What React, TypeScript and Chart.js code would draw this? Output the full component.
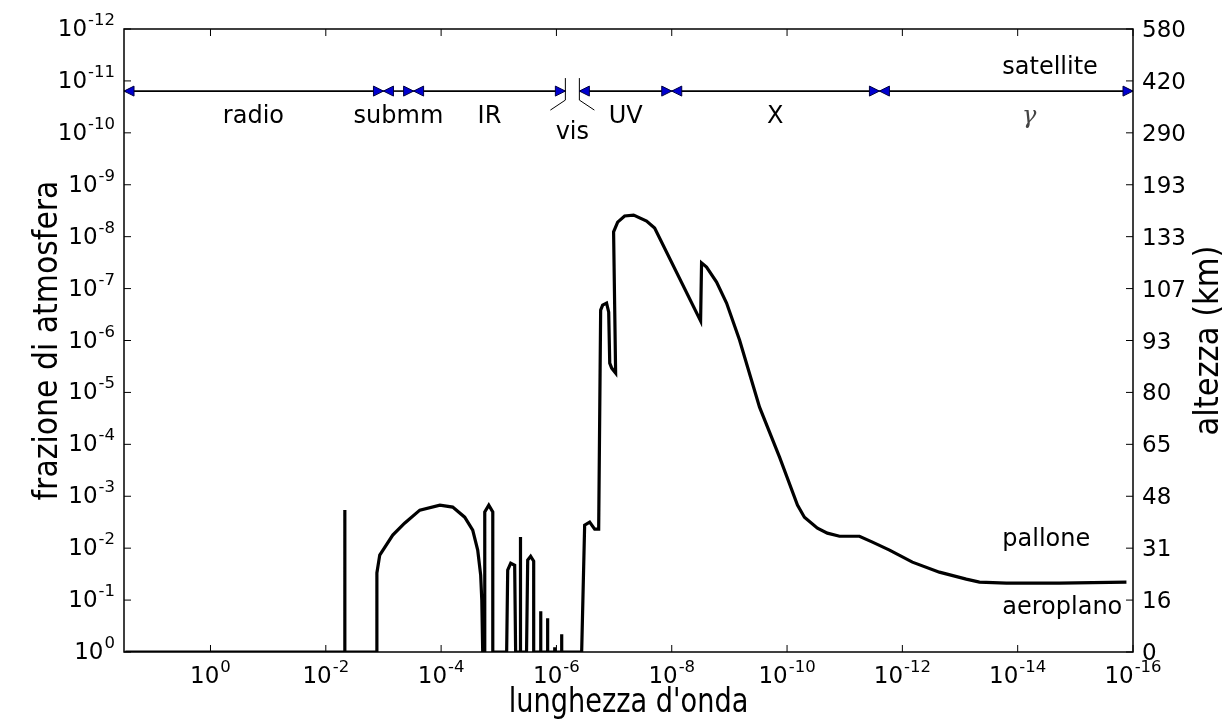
import React, { useEffect, useRef } from 'react';
import { Chart, registerables } from 'chart.js';

Chart.register(...registerables);

// wavelength (m) and fraction of atmosphere above which the radiation is absorbed
const wavelength = [
  30, 4.75e-3, 4.7e-3, 4.65e-3,
  1.3e-3, 1.3e-3, 1.16e-3, 6.9e-4, 4.3e-4, 2.34e-4, 1.05e-4, 6.3e-5, 3.9e-5, 2.83e-5, 2.32e-5, 2.06e-5, 1.97e-5, 1.9e-5,
  1.75e-5, 1.75e-5, 1.49e-5, 1.27e-5, 1.27e-5,
  7.3e-6, 7.0e-6, 6.2e-6, 5.3e-6, 5.1e-6,
  4.2e-6, 4.2e-6, 4.2e-6,
  3.3e-6, 3.15e-6, 2.8e-6, 2.48e-6, 2.48e-6,
  1.87e-6, 1.87e-6, 1.87e-6,
  1.42e-6, 1.42e-6, 1.42e-6,
  1.07e-6, 1.07e-6, 1.07e-6,
  8.1e-7, 8.1e-7, 8.1e-7,
  3.65e-7, 3.24e-7, 2.65e-7, 2.17e-7, 1.85e-7,
  1.71e-7, 1.58e-7, 1.35e-7, 1.24e-7, 1.19e-7, 1.1e-7, 9.4e-8,
  1.02e-7, 8.67e-8, 6.56e-8, 4.58e-8, 2.73e-8, 1.98e-8,
  3.16e-9, 3.04e-9, 2.49e-9, 1.67e-9, 1.12e-9, 6.67e-10, 3.0e-10, 1.35e-10, 6.6e-11,
  5.0e-11, 2.97e-11, 2.0e-11, 1.23e-11, 5.55e-12, 3.3e-12, 1.67e-12, 6.7e-13, 2.28e-13,
  7.8e-14, 4.6e-14, 1.57e-14, 1.9e-15, 1.3e-16,
];
const atmosphereFraction = [
  1, 1, 1.85e-3, 1,
  1, 3.0e-2, 1.36e-2, 5.6e-3, 3.3e-3, 1.85e-3, 1.48e-3, 1.62e-3, 2.53e-3, 4.5e-3, 1.09e-2, 3.3e-2, 0.1, 1,
  1, 2.0e-3, 1.48e-3, 2.0e-3, 1,
  1, 2.65e-2, 1.95e-2, 2.13e-2, 1,
  1, 6.1e-3, 1,
  1, 1.7e-2, 1.43e-2, 1.78e-2, 1,
  1, 0.164, 1,
  1, 0.223, 1,
  1, 0.81, 1,
  1, 0.454, 1,
  1, 3.6e-3, 3.15e-3, 4.3e-3, 4.3e-3,
  2.6e-7, 2.08e-7, 1.9e-7, 2.84e-7, 2.72e-6, 3.4e-6, 4.25e-6,
  8.1e-9, 5.24e-9, 4.0e-9, 3.84e-9, 5.0e-9, 6.8e-9,
  4.2e-7, 3.2e-8, 3.85e-8, 7.5e-8, 1.9e-7, 9.8e-7, 1.92e-5, 1.77e-4, 1.48e-3,
  2.53e-3, 4.12e-3, 5.14e-3, 5.9e-3, 5.9e-3, 7.65e-3, 1.09e-2, 1.86e-2, 2.9e-2,
  3.95e-2, 4.5e-2, 4.7e-2, 4.7e-2, 4.5e-2,
];

const xTickExponents = [0, -2, -4, -6, -8, -10, -12, -14, -16];
const yTickExponents = [-12, -11, -10, -9, -8, -7, -6, -5, -4, -3, -2, -1, 0];
const altitudeLabels = ['580', '420', '290', '193', '133', '107', '93', '80', '65', '48', '31', '16', '0'];

const bandEdges = [31.6, 1e-3, 3e-4, 7e-7, 4e-7, 1e-8, 2.5e-12, 1e-16];
const bandNames = ['radio', 'submm', 'IR', 'vis', 'UV', 'X', 'γ'];
const bandLabelAt = [0.18, 5.5e-4, 1.45e-5, 5.3e-7, 6.3e-8, 1.6e-10, 6.3e-15];
const bandArrowLevel = 1.57e-11;

const platformNames = ['satellite', 'pallone', 'aeroplano'];
const platformLevels = [7.4e-12, 9.1e-3, 0.187];
const platformWavelength = 1.85e-14;

const xTitle = "lunghezza d'onda";
const yTitle = 'frazione di atmosfera';
const y2Title = 'altezza (km)';

const FONT = "'DejaVu Sans', sans-serif";

function drawPow(ctx: CanvasRenderingContext2D, exp: number, x: number, baseY: number, align: 'center' | 'right') {
  const base = '10';
  const sup = String(exp);
  ctx.font = `23px ${FONT}`;
  const wb = ctx.measureText(base).width;
  ctx.font = `16.5px ${FONT}`;
  const ws = ctx.measureText(sup).width;
  const total = wb + 1 + ws;
  const left = align === 'center' ? x - total / 2 : x - total;
  ctx.textAlign = 'left';
  ctx.textBaseline = 'alphabetic';
  ctx.font = `23px ${FONT}`;
  ctx.fillText(base, left, baseY);
  ctx.font = `16.5px ${FONT}`;
  ctx.fillText(sup, left + wb + 1, baseY - 11);
}

function arrowHead(ctx: CanvasRenderingContext2D, tipX: number, y: number, dir: number) {
  const len = 10, half = 5;
  ctx.beginPath();
  ctx.moveTo(tipX, y);
  ctx.lineTo(tipX - dir * len, y - half);
  ctx.lineTo(tipX - dir * len, y + half);
  ctx.closePath();
  ctx.fillStyle = '#0000d0';
  ctx.fill();
  ctx.strokeStyle = '#000040';
  ctx.lineWidth = 1;
  ctx.stroke();
}

const overlay = {
  id: 'overlay',
  afterDatasetsDraw(chart: any) {
    const { ctx, chartArea: a, scales } = chart;
    const xs = scales.x, ys = scales.y;
    const seg = (x1: number, y1: number, x2: number, y2: number) => {
      ctx.beginPath(); ctx.moveTo(x1, y1); ctx.lineTo(x2, y2); ctx.stroke();
    };
    ctx.save();
    ctx.fillStyle = '#000';
    ctx.strokeStyle = '#000';

    // band arrows
    const ay = ys.getPixelForValue(bandArrowLevel);
    for (let i = 0; i < bandNames.length; i++) {
      const x1 = xs.getPixelForValue(bandEdges[i]);
      const x2 = xs.getPixelForValue(bandEdges[i + 1]);
      if (bandNames[i] === 'vis') {
        ctx.strokeStyle = '#000'; ctx.lineWidth = 1;
        seg(x1, ay - 13, x1, ay + 9); seg(x1, ay + 9, x1 - 15, ay + 19);
        seg(x2, ay - 13, x2, ay + 9); seg(x2, ay + 9, x2 + 15, ay + 19);
        continue;
      }
      ctx.strokeStyle = '#000'; ctx.lineWidth = 1.6;
      seg(x1, ay, x2, ay);
      arrowHead(ctx, x1, ay, -1);
      arrowHead(ctx, x2, ay, 1);
    }
    ctx.fillStyle = '#000';
    ctx.textAlign = 'center';
    ctx.textBaseline = 'alphabetic';
    for (let i = 0; i < bandNames.length; i++) {
      const px = xs.getPixelForValue(bandLabelAt[i]);
      const name = bandNames[i];
      if (name === 'γ') {
        ctx.font = `italic 24px 'DejaVu Serif', serif`;
        ctx.fillStyle = '#444';
      } else {
        ctx.font = `24px ${FONT}`;
        ctx.fillStyle = '#000';
      }
      ctx.fillText(name, px, ay + (name === 'vis' ? 48 : 32));
    }
    ctx.fillStyle = '#000';
    ctx.font = `24px ${FONT}`;
    ctx.textAlign = 'left';
    const plx = xs.getPixelForValue(platformWavelength);
    platformNames.forEach((n, i) => ctx.fillText(n, plx, ys.getPixelForValue(platformLevels[i])));

    // frame
    ctx.strokeStyle = '#000';
    ctx.lineWidth = 1.5;
    ctx.strokeRect(a.left, a.top, a.right - a.left, a.bottom - a.top);

    // ticks
    ctx.lineWidth = 1;
    xTickExponents.forEach((e) => {
      const px = xs.getPixelForValue(Math.pow(10, e));
      seg(px, a.bottom, px, a.bottom - 7);
      seg(px, a.top, px, a.top + 7);
      drawPow(ctx, e, px, a.bottom + 31, 'center');
    });
    yTickExponents.forEach((e, i) => {
      const py = ys.getPixelForValue(Math.pow(10, e));
      seg(a.left, py, a.left + 7, py);
      seg(a.right, py, a.right - 7, py);
      drawPow(ctx, e, a.left - 9, py + 7, 'right');
      ctx.font = `23px ${FONT}`;
      ctx.textAlign = 'left';
      ctx.textBaseline = 'alphabetic';
      ctx.fillText(altitudeLabels[i], a.right + 9, py + 8);
    });

    // axis titles
    ctx.font = `34px ${FONT}`;
    ctx.textAlign = 'center';
    ctx.textBaseline = 'alphabetic';
    ctx.save();
    ctx.translate((a.left + a.right) / 2, 712);
    ctx.scale(0.8, 1);
    ctx.fillText(xTitle, 0, 0);
    ctx.restore();

    const cy = (a.top + a.bottom) / 2;
    ctx.save();
    ctx.translate(57, cy);
    ctx.rotate(-Math.PI / 2);
    ctx.scale(0.88, 1);
    ctx.fillText(yTitle, 0, 0);
    ctx.restore();

    ctx.save();
    ctx.translate(1218, cy);
    ctx.rotate(-Math.PI / 2);
    ctx.scale(0.9, 1);
    ctx.fillText(y2Title, 0, 0);
    ctx.restore();

    ctx.restore();
  },
};

export default function App() {
  const ref = useRef<HTMLCanvasElement>(null);
  useEffect(() => {
    const chart = new Chart(ref.current as HTMLCanvasElement, {
      type: 'line',
      data: {
        datasets: [
          {
            data: wavelength.map((w, i) => ({ x: w, y: atmosphereFraction[i] })),
            borderColor: '#000',
            borderWidth: 3.2,
            pointRadius: 0,
            tension: 0,
            fill: false,
          },
        ],
      },
      options: {
        responsive: false,
        animation: false,
        events: [],
        layout: { padding: { left: 124, top: 29, right: 92, bottom: 72 } },
        plugins: { legend: { display: false }, tooltip: { enabled: false } },
        scales: {
          x: { type: 'logarithmic', min: 1e-16, max: Math.pow(10, 1.5), reverse: true, display: false },
          y: { type: 'logarithmic', min: 1e-12, max: 1, reverse: true, display: false },
        },
      },
      plugins: [overlay],
    } as any);
    return () => chart.destroy();
  }, []);
  return (
    <div style={{ position: 'absolute', left: 0, top: 0, width: 1225, height: 724, background: '#fff' }}>
      <canvas ref={ref} width={1225} height={724} style={{ display: 'block', width: 1225, height: 724 }} />
    </div>
  );
}
